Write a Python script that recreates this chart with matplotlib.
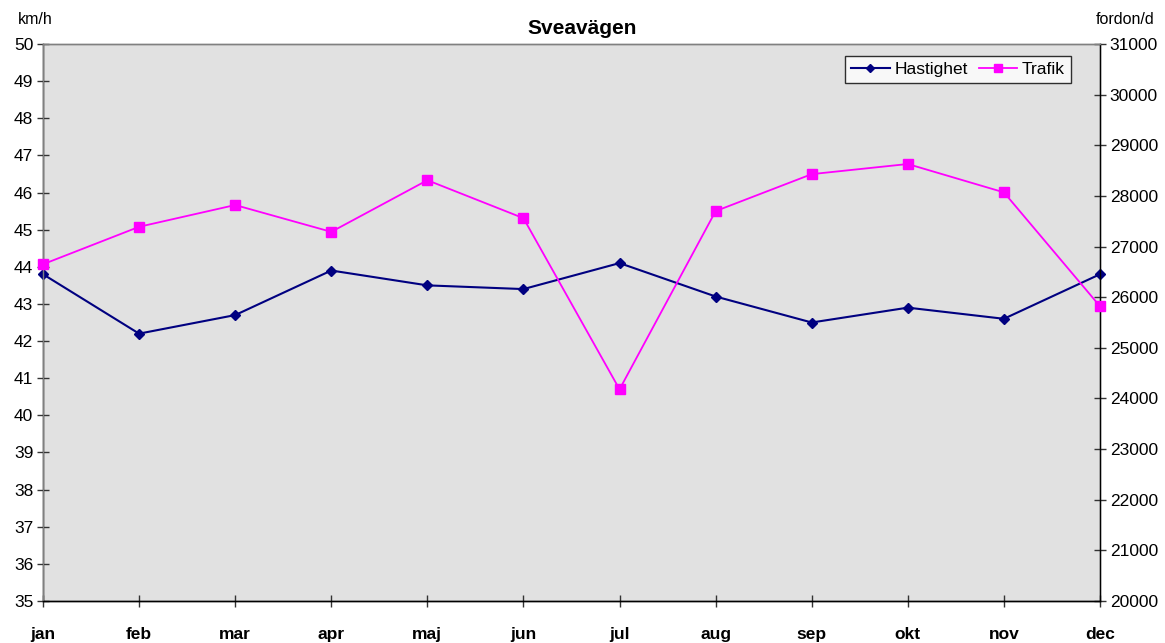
import matplotlib.pyplot as plt

plt.rcParams['font.family'] = ['Liberation Sans', 'DejaVu Sans']

months = ['jan', 'feb', 'mar', 'apr', 'maj', 'jun', 'jul', 'aug', 'sep', 'okt', 'nov', 'dec']
hastighet = [43.8, 42.2, 42.7, 43.9, 43.5, 43.4, 44.1, 43.2, 42.5, 42.9, 42.6, 43.8]
trafik = [26650, 27390, 27820, 27290, 28310, 27560, 24180, 27700, 28430, 28630, 28070, 25820]

fig = plt.figure(figsize=(11.65, 6.43), dpi=100)
ax = fig.add_axes([43 / 1165, 1 - 601 / 643, (1100 - 43) / 1165, (601 - 44) / 643])
ax.set_facecolor('#E1E1E1')
ax2 = ax.twinx()

x = list(range(len(months)))
l1, = ax.plot(x, hastighet, color='#000080', lw=1.5, marker='D', ms=5, label='Hastighet', clip_on=False, zorder=4)
l2, = ax2.plot(x, trafik, color='#FF00FF', lw=1.3, marker='s', ms=6.5, label='Trafik', clip_on=False, zorder=3)

ax.set_xlim(0, 11)
ax.set_ylim(35, 50)
ax.set_yticks(range(35, 51))
ax2.set_ylim(20000, 31000)
ax2.set_yticks(range(20000, 31001, 1000))
ax.set_xticks(x)
ax.set_xticklabels(months, fontsize=13.5, fontweight='bold')

for a in (ax, ax2):
    for s in a.spines.values():
        s.set_color('#808080')
        s.set_linewidth(1)
    a.tick_params(direction='inout', length=8, width=1, color='#333333', labelsize=12.5, labelcolor='black')
ax.spines['left'].set_color('black')
ax.spines['bottom'].set_color('black')
ax2.spines['bottom'].set_color('black')
ax2.spines['right'].set_color('black')
ax.tick_params(axis='x', pad=15)
ax.tick_params(axis='y', pad=3)
ax2.tick_params(axis='y', pad=3)

fig.text(0.5, 1 - 28 / 643, 'Sveavägen', ha='center', va='center', fontsize=15, fontweight='bold')
fig.text(18 / 1165, 1 - 20 / 643, 'km/h', ha='left', va='center', fontsize=11.5)
fig.text(1155 / 1165, 1 - 20 / 643, 'fordon/d', ha='right', va='center', fontsize=11.5)

leg = ax2.legend(handles=[l1, l2], loc='upper right', bbox_to_anchor=(1071 / 1165, 1 - 56 / 643),
                 bbox_transform=fig.transFigure, ncol=2, fontsize=12.5, frameon=True, fancybox=False,
                 edgecolor='black', handlelength=2.2, handletextpad=0.3, columnspacing=0.6,
                 borderpad=0.35, borderaxespad=0, markerscale=0.8)
leg.get_frame().set_linewidth(1)

fig.savefig('out.png', dpi=100)
